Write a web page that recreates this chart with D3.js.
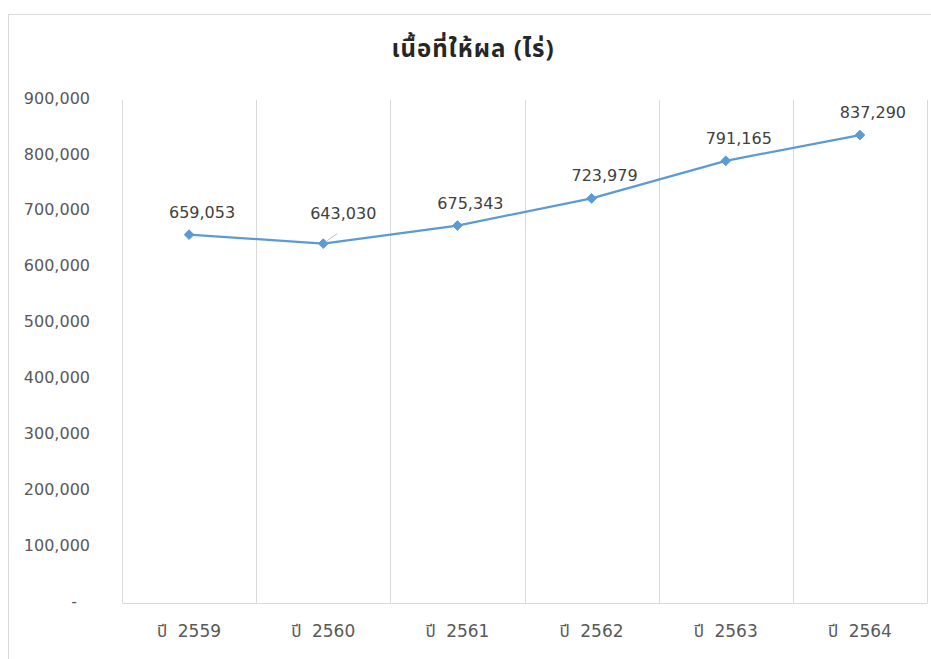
<!DOCTYPE html>
<html>
<head>
<meta charset="utf-8">
<script src="https://cdn.jsdelivr.net/npm/d3@7"></script>
<style>
  body { margin: 0; background: #fff; }
  text { font-family: "DejaVu Sans", "Noto Sans Thai", "Noto Sans", sans-serif; }
</style>
</head>
<body>
<div id="chart"></div>
<script>
// chart data
const title = "เนื้อที่ให้ผล (ไร่)";
const years = ["ปี 2559", "ปี 2560", "ปี 2561", "ปี 2562", "ปี 2563", "ปี 2564"];
const areaRai = [659053, 643030, 675343, 723979, 791165, 837290];
const yTicks = [0, 100000, 200000, 300000, 400000, 500000, 600000, 700000, 800000, 900000];

const W = 931, H = 659;
const margin = { top: 100, right: 4, bottom: 56, left: 122 };
const width = W - margin.left - margin.right;
const height = H - margin.top - margin.bottom;

const root = d3.select("#chart")
  .append("svg")
  .attr("width", W)
  .attr("height", H);

// chart frame
root.append("rect")
  .attr("x", 8.5).attr("y", 14.5)
  .attr("width", W + 10).attr("height", H + 10)
  .attr("fill", "#fff")
  .attr("stroke", "#d9d9d9");

root.append("text")
  .attr("x", 473).attr("y", 57)
  .attr("text-anchor", "middle")
  .attr("font-size", 24)
  .attr("font-weight", "bold")
  .attr("letter-spacing", 1)
  .attr("fill", "#262626")
  .style("font-family", "\"Noto Sans Thai\", \"Noto Sans\", sans-serif")
  .text(title);

const svg = root.append("g")
  .attr("transform", `translate(${margin.left},${margin.top})`);

const xScale = d3.scaleBand()
  .domain(years)
  .range([0, width]);

const yScale = d3.scaleLinear()
  .domain([0, 900000])
  .range([height, 0]);

// vertical gridlines at category boundaries
const bounds = years.map(d => xScale(d)).concat([width]);
svg.selectAll(".vgrid")
  .data(bounds)
  .enter().append("line")
  .attr("class", "vgrid")
  .attr("x1", d => Math.round(d) + 0.5)
  .attr("x2", d => Math.round(d) + 0.5)
  .attr("y1", 0)
  .attr("y2", height)
  .attr("stroke", "#d9d9d9");

// x axis
const xAxis = svg.append("g")
  .attr("transform", `translate(0,${height})`)
  .call(d3.axisBottom(xScale).tickSize(0).tickPadding(22));
xAxis.select(".domain").attr("stroke", "#d9d9d9");
xAxis.selectAll("text")
  .attr("font-size", 17)
  .attr("word-spacing", 5)
  .attr("fill", "#595959")
  .style("font-family", "\"DejaVu Sans\", \"Noto Sans Thai\", sans-serif");

// y axis
const yAxis = svg.append("g")
  .call(d3.axisLeft(yScale)
    .tickValues(yTicks)
    .tickSize(0)
    .tickPadding(32)
    .tickFormat(d => d === 0 ? "-" : d3.format(",")(d)));
yAxis.select(".domain").remove();
yAxis.selectAll("text")
  .attr("font-size", 16)
  .attr("fill", "#595959")
  .attr("y", -2)
  .style("font-family", "\"DejaVu Sans\", sans-serif");
yAxis.selectAll("text").filter(d => d === 0).attr("dx", -13);

// line
const line = d3.line()
  .x((d, i) => xScale(years[i]) + xScale.bandwidth() / 2)
  .y(d => yScale(d));

svg.append("path")
  .datum(areaRai)
  .attr("fill", "none")
  .attr("stroke", "#5b9bd5")
  .attr("stroke-width", 2.25)
  .attr("stroke-linejoin", "round")
  .attr("d", line);

// diamond markers
svg.selectAll(".marker")
  .data(areaRai)
  .enter().append("path")
  .attr("class", "marker")
  .attr("transform", (d, i) => `translate(${xScale(years[i]) + xScale.bandwidth() / 2},${yScale(d)})`)
  .attr("d", d3.symbol(d3.symbolDiamond2, 60))
  .attr("fill", "#5b9bd5")
  .attr("stroke", "#5b9bd5");

// data labels (second one pushed aside with a leader line like the original)
const labelDx = (i) => i === 1 ? 20 : 13;
const labelDy = (i) => i === 1 ? -25 : -17;

svg.selectAll(".leader")
  .data(areaRai.filter((d, i) => i === 1))
  .enter().append("line")
  .attr("x1", xScale(years[1]) + xScale.bandwidth() / 2 + 4)
  .attr("y1", yScale(areaRai[1]) - 3)
  .attr("x2", xScale(years[1]) + xScale.bandwidth() / 2 + 14)
  .attr("y2", yScale(areaRai[1]) - 10)
  .attr("stroke", "#bfbfbf");

svg.selectAll(".dlabel")
  .data(areaRai)
  .enter().append("text")
  .attr("class", "dlabel")
  .attr("x", (d, i) => xScale(years[i]) + xScale.bandwidth() / 2 + labelDx(i))
  .attr("y", (d, i) => yScale(d) + labelDy(i))
  .attr("text-anchor", "middle")
  .attr("font-size", 16)
  .attr("fill", "#404040")
  .style("font-family", "\"DejaVu Sans\", sans-serif")
  .text(d => d3.format(",")(d));
</script>
</body>
</html>
